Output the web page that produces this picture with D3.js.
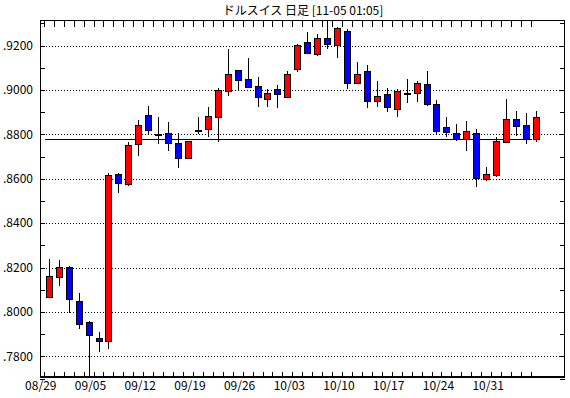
<!DOCTYPE html>
<html><head><meta charset="utf-8">
<script src="https://cdn.jsdelivr.net/npm/d3@7"></script>
<style>
body{margin:0;background:#fff;}
svg{display:block;}
text{font-family:"Liberation Sans Narrow","Arial Narrow","Noto Sans CJK JP",sans-serif;fill:#000;}
</style></head>
<body><svg id="c" width="570" height="398"></svg>
<script>
const title = "ドルスイス 日足 [11-05 01:05]";
const dates = ["08/29","08/30","08/31","09/01","09/02",
"09/05","09/06","09/07","09/08","09/09",
"09/12","09/13","09/14","09/15","09/16",
"09/19","09/20","09/21","09/22","09/23",
"09/26","09/27","09/28","09/29","09/30",
"10/03","10/04","10/05","10/06","10/07",
"10/10","10/11","10/12","10/13","10/14",
"10/17","10/18","10/19","10/20","10/21",
"10/24","10/25","10/26","10/27","10/28",
"10/31","11/01","11/02","11/03","11/04"];
const openV = [0.8069,0.8156,0.8201,0.8048,0.7953,0.7882,0.7868,0.8620,0.8575,0.8755,
0.8887,0.8801,0.8805,0.8759,0.8692,0.8821,0.8823,0.8877,0.8996,0.9090,
0.9048,0.9018,0.8958,0.9003,0.8969,0.9093,0.9218,0.9160,0.9232,0.9205,
0.9264,0.9034,0.9084,0.8949,0.8980,0.8911,0.8987,0.8985,0.9025,0.8935,
0.8832,0.8805,0.8779,0.8805,0.8596,0.8613,0.8767,0.8869,0.8841,0.8779];
const highV = [0.8238,0.8234,0.8207,0.8085,0.7958,0.7909,0.8624,0.8624,0.8767,0.8864,
0.8929,0.8879,0.8855,0.8805,0.8771,0.8877,0.8922,0.9007,0.9184,0.9092,
0.9145,0.9059,0.9004,0.9022,0.9086,0.9205,0.9259,0.9250,0.9330,0.9285,
0.9273,0.9124,0.9111,0.9040,0.9007,0.9003,0.9049,0.9040,0.9085,0.8955,
0.8878,0.8845,0.8860,0.8824,0.8653,0.8789,0.8959,0.8905,0.8895,0.8905];
const lowV = [0.8064,0.8118,0.7994,0.7924,0.7690,0.7818,0.7834,0.8537,0.8568,0.8704,
0.8798,0.8758,0.8726,0.8647,0.8687,0.8801,0.8789,0.8764,0.8974,0.8996,
0.9007,0.8924,0.8924,0.8917,0.8962,0.9079,0.9165,0.9154,0.9185,0.9145,
0.9003,0.9025,0.8917,0.8924,0.8902,0.8879,0.8942,0.8947,0.8929,0.8801,
0.8789,0.8771,0.8726,0.8564,0.8591,0.8609,0.8764,0.8794,0.8756,0.8767];
const closeV = [0.8162,0.8201,0.8057,0.7944,0.7895,0.7868,0.8615,0.8579,0.8750,0.8841,
0.8818,0.8801,0.8759,0.8692,0.8768,0.8821,0.8881,0.8999,0.9072,0.9045,
0.9014,0.8967,0.8985,0.8980,0.9071,0.9203,0.9169,0.9232,0.9205,0.9281,
0.9029,0.9074,0.8949,0.8971,0.8920,0.8994,0.8987,0.9030,0.8935,0.8812,
0.8809,0.8779,0.8815,0.8602,0.8620,0.8768,0.8869,0.8839,0.8779,0.8877];
const weekLabels = ["08/29","09/05","09/12","09/19","09/26","10/03","10/10","10/17","10/24","10/31"];
const yTicks = [0.78,0.80,0.82,0.84,0.86,0.88,0.90,0.92];
const yMinor = [0.77,0.78,0.79,0.80,0.81,0.82,0.83,0.84,0.85,0.86,0.87,0.88,0.89,0.90,0.91,0.92,0.93];
const refLine = 0.8778;

const L = 40, R = 565, T = 20.5, B = 377;
const svg = d3.select("#c");
const y = d3.scaleLinear().domain([0.7707, 0.9313]).range([B, T]);
const x = d3.scalePoint().domain(dates).range([48.8, 535.9]);
const step = x.step();
const px = v => Math.round(v) + 0.5;

// title
svg.append("text").attr("x", 303).attr("y", 15).attr("text-anchor","middle")
  .attr("font-size", 12).text(title);

// grid
const g = svg.append("g").attr("shape-rendering","crispEdges");
g.selectAll("line.grid").data(yTicks).join("line")
  .attr("x1", L).attr("x2", R).attr("y1", d => px(y(d))).attr("y2", d => px(y(d)))
  .attr("stroke","#000").attr("stroke-dasharray","1,2");

// minor ticks on left and right
g.selectAll("line.lt").data(yMinor).join("line")
  .attr("x1", L).attr("x2", L+5).attr("y1", d => px(y(d))).attr("y2", d => px(y(d)))
  .attr("stroke","#000");
g.selectAll("line.rt").data(yMinor).join("line")
  .attr("x1", R-5).attr("x2", R).attr("y1", d => px(y(d))).attr("y2", d => px(y(d)))
  .attr("stroke","#000");

// x ticks top and bottom (between candles)
g.selectAll("line.bt").data(dates).join("line")
  .attr("x1", d => px(x(d) - step/2)).attr("x2", d => px(x(d) - step/2))
  .attr("y1", B).attr("y2", B-5).attr("stroke","#000");
g.selectAll("line.tt").data(dates).join("line")
  .attr("x1", d => px(x(d) - step/2)).attr("x2", d => px(x(d) - step/2))
  .attr("y1", T).attr("y2", T+6).attr("stroke","#000");

// y labels
svg.selectAll("text.yl").data(yTicks).join("text")
  .attr("x", 33).attr("y", d => y(d)).attr("dy","0.36em").attr("text-anchor","end")
  .attr("font-size", 12).text(d => d3.format(".4f")(d).replace(/^0/, ""));

// x labels
svg.selectAll("text.xl").data(weekLabels).join("text")
  .attr("x", d => x(d) - 8).attr("y", 390).attr("text-anchor","middle")
  .attr("font-size", 12).text(d => d);

// clip
svg.append("clipPath").attr("id","clip").append("rect")
  .attr("x", L).attr("y", T).attr("width", R-L).attr("height", B-T);
const cg = svg.append("g").attr("clip-path","url(#clip)").attr("shape-rendering","crispEdges");

// reference line
cg.append("line").attr("x1", px(x(dates[0]) - step/2)).attr("x2", px(x(dates[dates.length-1]) - step/2))
  .attr("y1", px(y(refLine))).attr("y2", px(y(refLine))).attr("stroke","#000").attr("stroke-width",1.5);

const idx = d3.range(dates.length);
cg.selectAll("line.wick").data(idx).join("line")
  .attr("x1", i => px(x(dates[i]))).attr("x2", i => px(x(dates[i])))
  .attr("y1", i => y(highV[i])).attr("y2", i => y(lowV[i]))
  .attr("stroke","#000").attr("stroke-width",1.2);

cg.selectAll("rect.body").data(idx).join("rect")
  .attr("x", i => Math.round(x(dates[i])) - 2.5)
  .attr("width", 6)
  .attr("y", i => Math.round(y(Math.max(openV[i], closeV[i]))) + 0.5)
  .attr("height", i => Math.max(1, Math.round(Math.abs(y(openV[i]) - y(closeV[i])))))
  .attr("fill", i => closeV[i] > openV[i] ? "#ff0000" : (closeV[i] < openV[i] ? "#0000ff" : "#000"))
  .attr("stroke","#000").attr("stroke-width",1);

// frame
svg.append("rect").attr("x", L+0.5).attr("y", T).attr("width", R-L-1).attr("height", B-T)
  .attr("fill","none").attr("stroke","#000").attr("stroke-width",1.2).attr("shape-rendering","crispEdges");
</script></body></html>
